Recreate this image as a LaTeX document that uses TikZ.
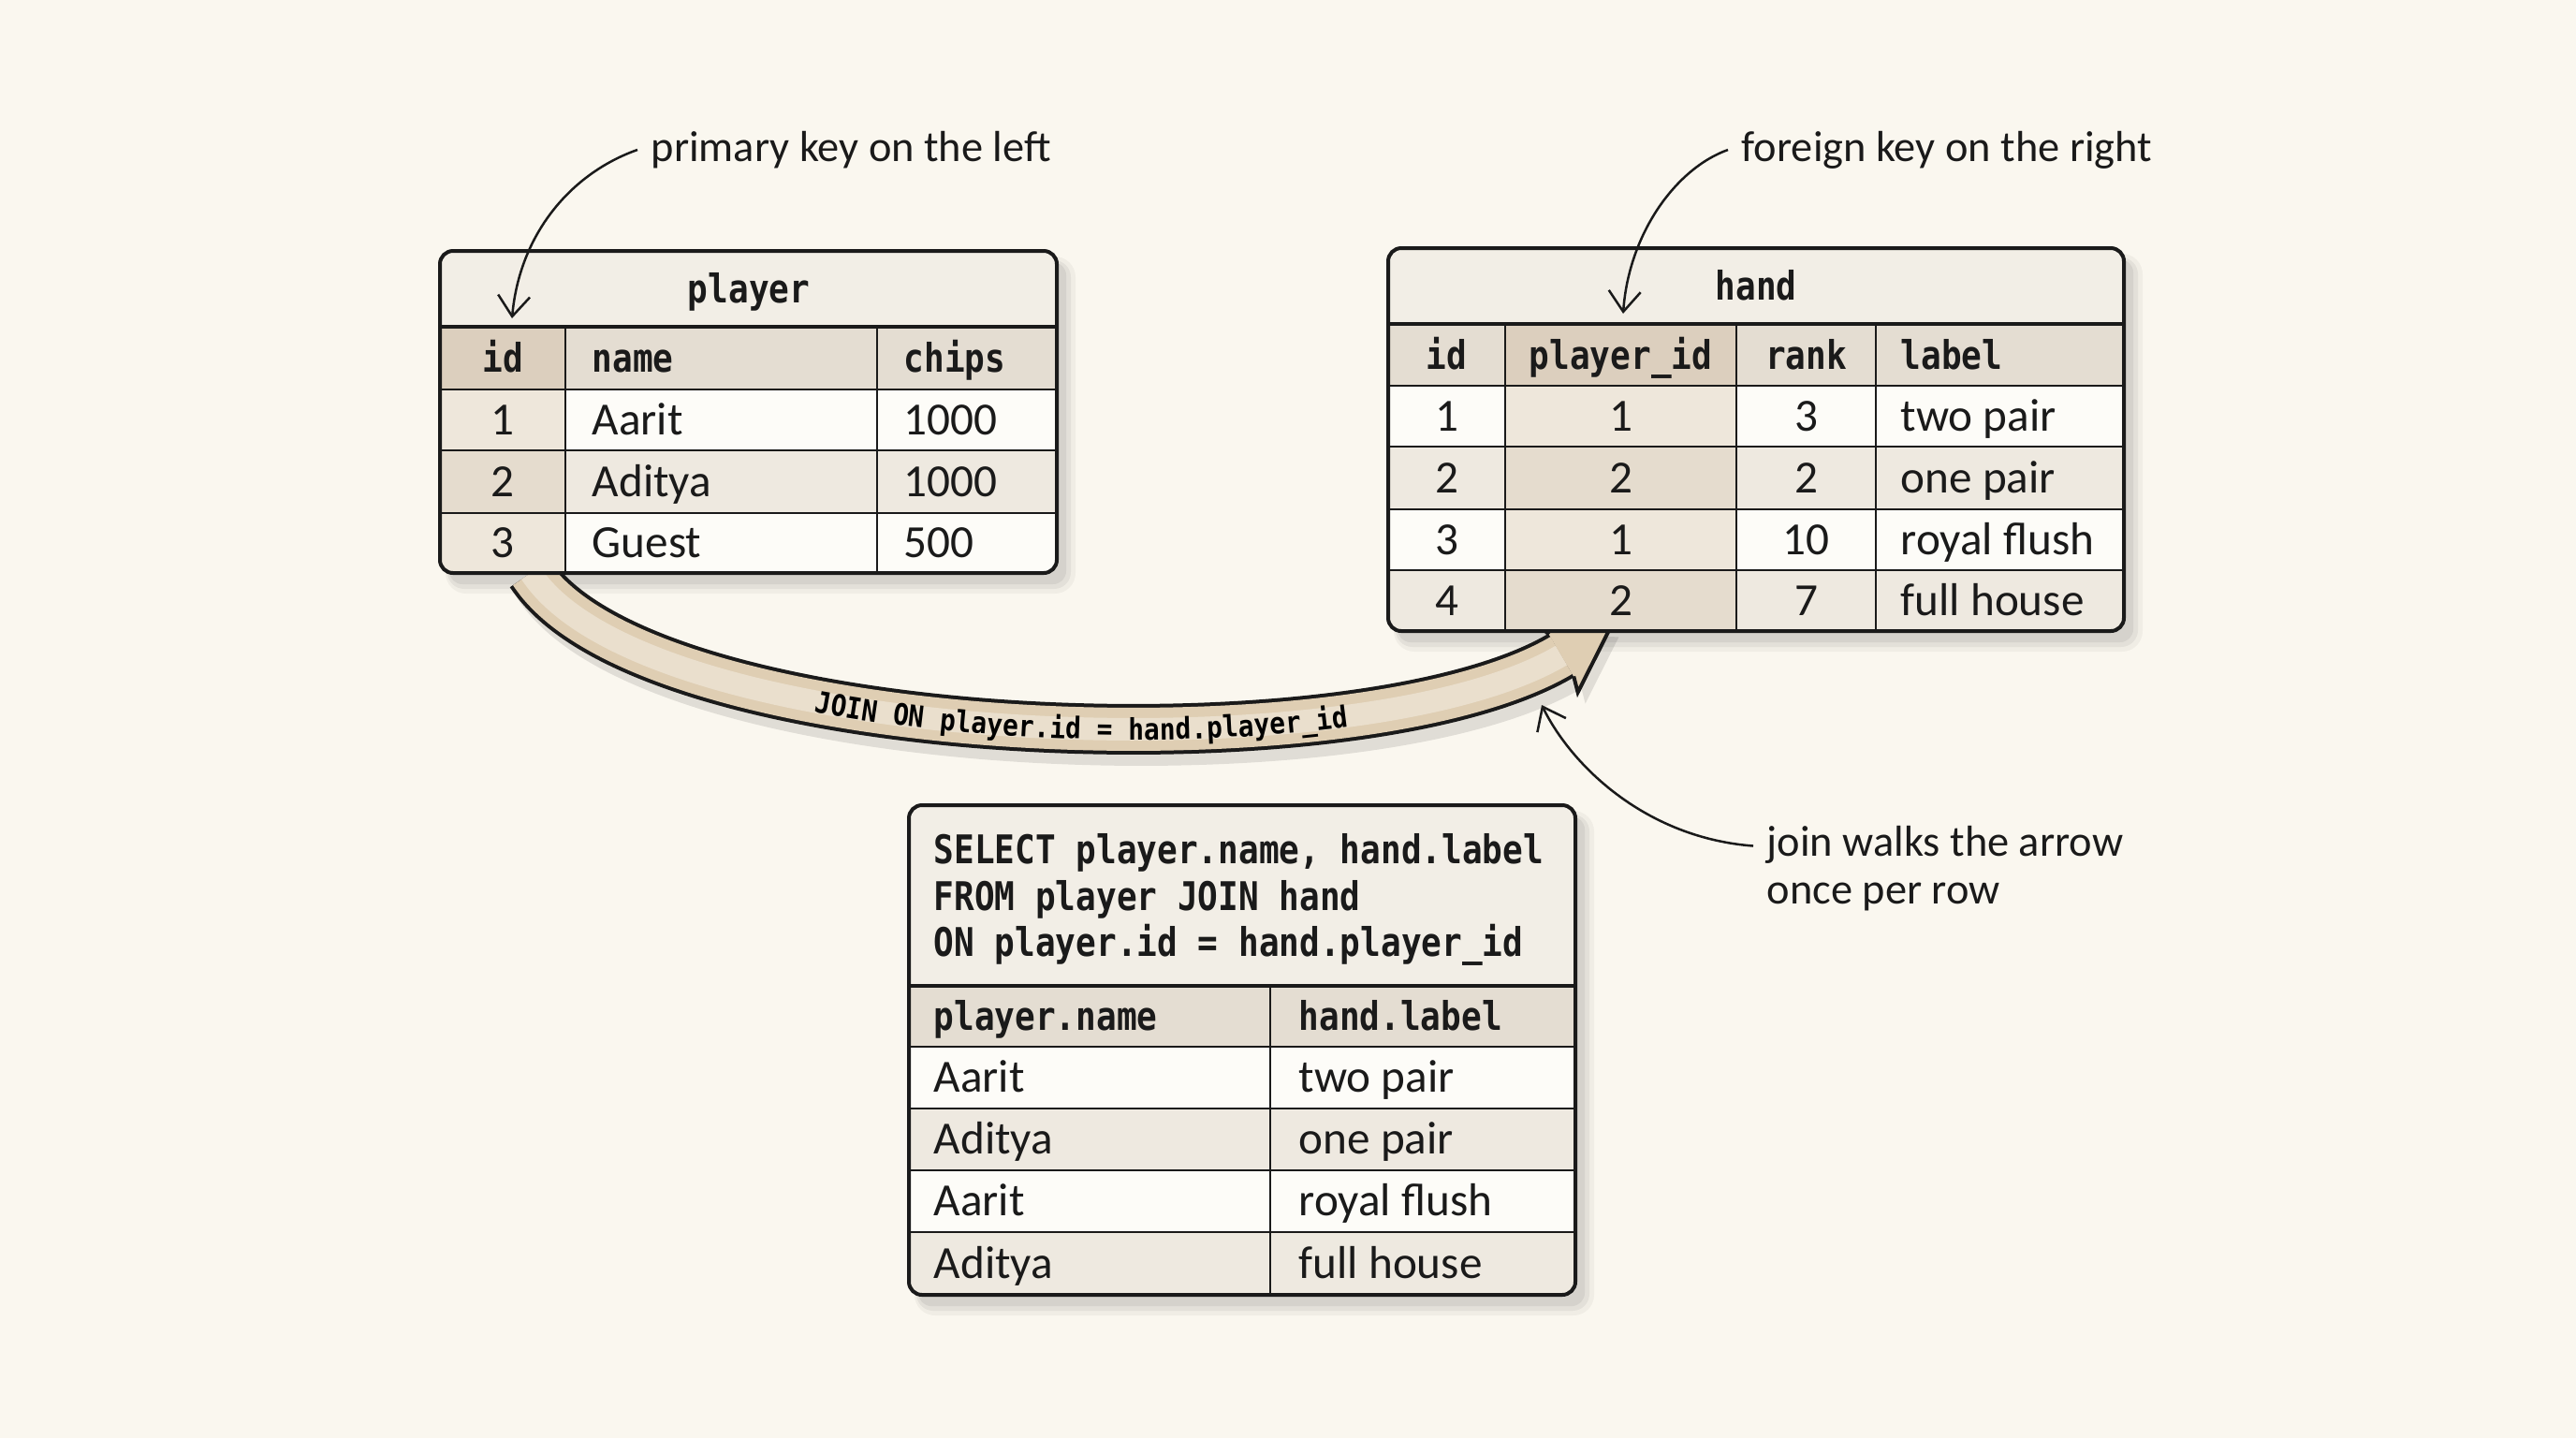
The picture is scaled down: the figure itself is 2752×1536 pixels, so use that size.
\documentclass[tikz,border=0pt]{standalone}
\usepackage{fontspec}
\setmainfont{Carlito}
\newfontfamily\monob[FakeStretch=0.855]{DejaVu Sans Mono Bold}
\newfontfamily\monobb[FakeStretch=0.88]{DejaVu Sans Mono Bold}
\usetikzlibrary{arrows.meta,calc,decorations.text}

\definecolor{bg}{HTML}{FAF7EF}
\definecolor{titlefill}{HTML}{F2EEE6}
\definecolor{headfill}{HTML}{E4DDD2}
\definecolor{keyhead}{HTML}{DCCFBE}
\definecolor{rowwhite}{HTML}{FDFCF8}
\definecolor{rowalt}{HTML}{EEE9E0}
\definecolor{keycol}{HTML}{EEE7DB}
\definecolor{keycolalt}{HTML}{E5DCCE}
\definecolor{bandfill}{HTML}{DFCEB3}
\definecolor{bandlight}{HTML}{EADFCD}
\definecolor{ink}{HTML}{1A1A1A}

\newcommand{\tshadow}[1]{%
  \fill[black, opacity=0.04, rounded corners=2.2mm] ($(#1.north west)+(6,6)$) rectangle ($(#1.south east)+(20,22)$);
  \fill[black, opacity=0.05, rounded corners=1.8mm] ($(#1.north west)+(8,10)$) rectangle ($(#1.south east)+(15,17)$);
  \fill[black, opacity=0.06, rounded corners=1.4mm] ($(#1.north west)+(10,12)$) rectangle ($(#1.south east)+(10,12)$);
}

\begin{document}
\begin{tikzpicture}[x=0.1mm,y=-0.1mm,
  sanstxt/.style={inner sep=0pt, font=\fontsize{14}{16}\selectfont, text height=8.85pt, text depth=0pt, text=ink},
  monotxt/.style={inner sep=0pt, font=\monob\fontsize{12}{14}\selectfont, text height=8.7pt, text depth=0pt, text=ink},
  note/.style={inner ysep=0pt, inner xsep=1.4mm, font=\fontsize{13.2}{14.6}\selectfont, align=left, text=ink},
  gridline/.style={line width=0.28mm, draw=ink},
  titleline/.style={line width=0.36mm, draw=ink},
  framebox/.style={draw=ink, line width=0.4mm, rounded corners=1.4mm},
  holder/.style={inner sep=0pt, outer sep=0pt, anchor=north west},
  notearrow/.style={draw=ink, line width=0.25mm, -{Straight Barb[length=2.2mm,width=3.4mm]}},
]
\fill[bg] (0,0) rectangle (2752,1536);
\useasboundingbox (0,0) rectangle (2752,1536);

% table holders
\node[holder, minimum width=65.9mm, minimum height=34.4mm] (player) at (470,268) {};
\node[holder, minimum width=78.6mm, minimum height=40.9mm] (hand) at (1483,265) {};
\node[holder, minimum width=71.2mm, minimum height=52.3mm] (result) at (971,860) {};

\coordinate (jstart) at ($(player.south west)+(97,0)$);
\coordinate (jend) at ($(hand.south west)+(185,26)$);

% shadows
\tshadow{player}
\tshadow{hand}
\tshadow{result}

% band shadow
\begin{scope}[transform canvas={shift={(8,12)}}]
  \draw[black, opacity=0.10, line width=5.4mm] (jstart) .. controls (690,800) and (1450,829) .. (jend);
  \fill[black, opacity=0.10] ($(jend)+(-13.2,-22.4)$) -- ($(jend)+(-26.2,-34.5)$) -- ($(jend)+(53.4,-31.6)$) -- ($(jend)+(17.6,39.5)$) -- ($(jend)+(13.2,22.4)$) -- cycle;
\end{scope}

% band
\draw[ink, line width=5.4mm] (jstart) .. controls (690,800) and (1450,829) .. (jend);
\draw[bandfill, line width=4.6mm] (jstart) .. controls (690,800) and (1450,829) .. (jend);
\draw[bandlight, line width=2.4mm] (jstart) .. controls (690,800) and (1450,829) .. (jend);
\fill[bandfill] ($(jend)+(-13.2,-22.4)$) -- ($(jend)+(-26.2,-34.5)$) -- ($(jend)+(53.4,-31.6)$) -- ($(jend)+(17.6,39.5)$) -- ($(jend)+(13.2,22.4)$) -- cycle;
\draw[ink, line width=0.4mm, line join=miter] ($(jend)+(-13.2,-22.4)$) -- ($(jend)+(-26.2,-34.5)$) -- ($(jend)+(53.4,-31.6)$) -- ($(jend)+(17.6,39.5)$) -- ($(jend)+(13.2,22.4)$);
\path[decorate, decoration={text along path,
    text={|\monobb\fontsize{9}{10}\selectfont|JOIN ON player.id = hand.player{\_}id},
    text align={align=center, left indent=34.4mm, right indent=24.2mm}, raise=-3.2pt}]
  (jstart) .. controls (690,800) and (1450,829) .. (jend);

% ---------- player table ----------
\begin{scope}
\clip[rounded corners=1.4mm] (player.north west) rectangle (player.south east);
\fill[titlefill] (470,268) rectangle (1129,349);
\fill[headfill] (470,349) rectangle (1129,416);
\fill[keyhead] (470,349) rectangle (604,416);
\fill[rowwhite] (470,416) rectangle (1129,481);
\fill[keycol] (470,416) rectangle (604,481);
\fill[rowalt] (470,481) rectangle (1129,548);
\fill[keycolalt] (470,481) rectangle (604,548);
\fill[rowwhite] (470,548) rectangle (1129,612);
\fill[keycol] (470,548) rectangle (604,612);
\end{scope}
\draw[titleline] (470,349) -- (1129,349);
\draw[gridline] (470,416) -- (1129,416);
\draw[gridline] (470,481) -- (1129,481);
\draw[gridline] (470,548) -- (1129,548);
\draw[gridline] (604,349) -- (604,612);
\draw[gridline] (937,349) -- (937,612);
\draw[framebox] (player.north west) rectangle (player.south east);

\node[monotxt] (p-title) at (800,308.5) {player};
\node[monotxt] (p-h-id) at (537,382.5) {id};
\node[monotxt, anchor=west] (p-h-name) at (632,382.5) {name};
\node[monotxt, anchor=west] (p-h-chips) at (965,382.5) {chips};
\node[sanstxt] (p-id1) at (537,448.5) {1};
\node[sanstxt] (p-id2) at (537,514.5) {2};
\node[sanstxt] (p-id3) at (537,580) {3};
\node[sanstxt, anchor=west] (p-n1) at (632,448.5) {Aarit};
\node[sanstxt, anchor=west] (p-n2) at (632,514.5) {Aditya};
\node[sanstxt, anchor=west] (p-n3) at (632,580) {Guest};
\node[sanstxt, anchor=west] (p-c1) at (965,448.5) {1000};
\node[sanstxt, anchor=west] (p-c2) at (965,514.5) {1000};
\node[sanstxt, anchor=west] (p-c3) at (965,580) {500};

% ---------- hand table ----------
\begin{scope}
\clip[rounded corners=1.4mm] (hand.north west) rectangle (hand.south east);
\fill[titlefill] (1483,265) rectangle (2269,346);
\fill[headfill] (1483,346) rectangle (2269,412);
\fill[keyhead] (1608,346) rectangle (1855,412);
\fill[rowwhite] (1483,412) rectangle (2269,477);
\fill[keycol] (1608,412) rectangle (1855,477);
\fill[rowalt] (1483,477) rectangle (2269,544);
\fill[keycolalt] (1608,477) rectangle (1855,544);
\fill[rowwhite] (1483,544) rectangle (2269,609);
\fill[keycol] (1608,544) rectangle (1855,609);
\fill[rowalt] (1483,609) rectangle (2269,674);
\fill[keycolalt] (1608,609) rectangle (1855,674);
\end{scope}
\draw[titleline] (1483,346) -- (2269,346);
\draw[gridline] (1483,412) -- (2269,412);
\draw[gridline] (1483,477) -- (2269,477);
\draw[gridline] (1483,544) -- (2269,544);
\draw[gridline] (1483,609) -- (2269,609);
\draw[gridline] (1608,346) -- (1608,674);
\draw[gridline] (1855,346) -- (1855,674);
\draw[gridline] (2004,346) -- (2004,674);
\draw[framebox] (hand.north west) rectangle (hand.south east);

\node[monotxt] (h-title) at (1876,305.5) {hand};
\node[monotxt] (h-h-id) at (1545.5,379) {id};
\node[monotxt] (h-h-pid) at (1731.5,379) {player{\_}id};
\node[monotxt] (h-h-rank) at (1929.5,379) {rank};
\node[monotxt, anchor=west] (h-h-label) at (2030,379) {label};
\node[sanstxt] (h-id1) at (1545.5,444.5) {1};
\node[sanstxt] (h-id2) at (1545.5,510.5) {2};
\node[sanstxt] (h-id3) at (1545.5,576.5) {3};
\node[sanstxt] (h-id4) at (1545.5,641.5) {4};
\node[sanstxt] (h-p1) at (1731.5,444.5) {1};
\node[sanstxt] (h-p2) at (1731.5,510.5) {2};
\node[sanstxt] (h-p3) at (1731.5,576.5) {1};
\node[sanstxt] (h-p4) at (1731.5,641.5) {2};
\node[sanstxt] (h-r1) at (1929.5,444.5) {3};
\node[sanstxt] (h-r2) at (1929.5,510.5) {2};
\node[sanstxt] (h-r3) at (1929.5,576.5) {10};
\node[sanstxt] (h-r4) at (1929.5,641.5) {7};
\node[sanstxt, anchor=west] (h-l1) at (2030,444.5) {two pair};
\node[sanstxt, anchor=west] (h-l2) at (2030,510.5) {one pair};
\node[sanstxt, anchor=west] (h-l3) at (2030,576.5) {royal flush};
\node[sanstxt, anchor=west] (h-l4) at (2030,641.5) {full house};

% ---------- result table ----------
\begin{scope}
\clip[rounded corners=1.4mm] (result.north west) rectangle (result.south east);
\fill[titlefill] (971,860) rectangle (1683,1053);
\fill[headfill] (971,1053) rectangle (1683,1118);
\fill[rowwhite] (971,1118) rectangle (1683,1184);
\fill[rowalt] (971,1184) rectangle (1683,1250);
\fill[rowwhite] (971,1250) rectangle (1683,1316);
\fill[rowalt] (971,1316) rectangle (1683,1383);
\end{scope}
\draw[titleline] (971,1053) -- (1683,1053);
\draw[gridline] (971,1118) -- (1683,1118);
\draw[gridline] (971,1184) -- (1683,1184);
\draw[gridline] (971,1250) -- (1683,1250);
\draw[gridline] (971,1316) -- (1683,1316);
\draw[gridline] (1357,1053) -- (1357,1383);
\draw[framebox] (result.north west) rectangle (result.south east);

\node[monotxt, anchor=west] (sql1) at (997,907) {SELECT player.name, hand.label};
\node[monotxt, anchor=west] (sql2) at (997,957) {FROM player JOIN hand};
\node[monotxt, anchor=west] (sql3) at (997,1006) {ON player.id = hand.player{\_}id};
\node[monotxt, anchor=west] (r-h1) at (997,1085.5) {player.name};
\node[monotxt, anchor=west] (r-h2) at (1387,1085.5) {hand.label};
\node[sanstxt, anchor=west] (r-a1) at (997,1151) {Aarit};
\node[sanstxt, anchor=west] (r-a2) at (997,1217) {Aditya};
\node[sanstxt, anchor=west] (r-a3) at (997,1283) {Aarit};
\node[sanstxt, anchor=west] (r-a4) at (997,1349.5) {Aditya};
\node[sanstxt, anchor=west] (r-b1) at (1387,1151) {two pair};
\node[sanstxt, anchor=west] (r-b2) at (1387,1217) {one pair};
\node[sanstxt, anchor=west] (r-b3) at (1387,1283) {royal flush};
\node[sanstxt, anchor=west] (r-b4) at (1387,1349.5) {full house};

% ---------- annotations ----------
\node[note, anchor=west] (pk) at (681,160) {primary key on the left};
\coordinate (pkend) at ($(player.north west)+(77,72)$);
\draw[notearrow] (pk.west) .. controls (610,185) and (555,250) .. (pkend);

\node[note, anchor=west] (fk) at (1846,160) {foreign key on the right};
\coordinate (fkend) at ($(hand.north west)+(251,70)$);
\draw[notearrow] (fk.west) .. controls (1790,180) and (1740,250) .. (fkend);

\node[note, anchor=west] (jw) at (1873,927.5) {join walks the arrow\\once per row};
\coordinate (jwend) at ($(jend)+(-21,53)$);
\draw[notearrow] ($(jw.west)+(0,-24)$) .. controls (1760,895) and (1680,820) .. (jwend);

\end{tikzpicture}
\end{document}
